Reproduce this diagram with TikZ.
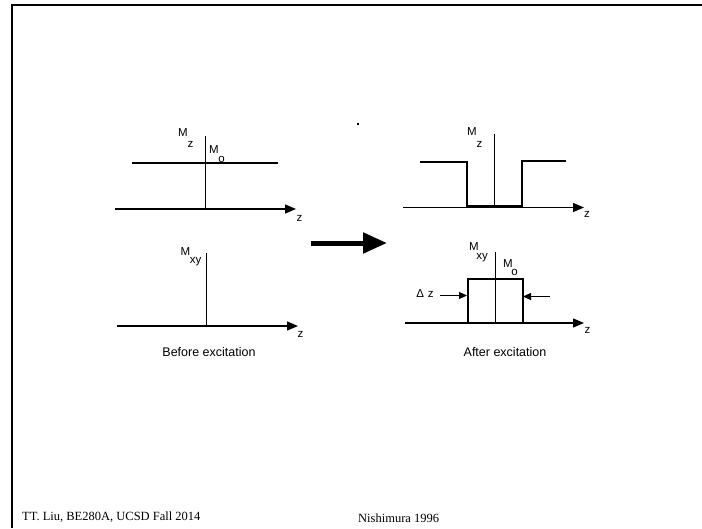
\documentclass[tikz,border=0pt]{standalone}
\usepackage{fontspec}
\setmainfont{Liberation Serif}
\setsansfont{Liberation Sans}
\usetikzlibrary{arrows.meta}
\begin{document}
\begin{tikzpicture}[x=1pt,y=-1pt,
  lbl/.style={font=\sffamily\fontsize{11.5}{12}\selectfont,inner sep=0pt},
  captxt/.style={font=\sffamily\fontsize{12.5}{14}\selectfont,inner sep=0pt},
  foot/.style={font=\rmfamily\fontsize{12.5}{14}\selectfont,inner sep=0pt,anchor=west},
  axis/.style={line width=1.4pt,-{Triangle[length=11pt,width=9pt]}},
  vaxis/.style={line width=0.9pt},
  curve/.style={line width=2pt},
  frame/.style={line width=2pt},
  dimarrow/.style={line width=0.9pt,-{Triangle[length=8pt,width=7pt]}}]
\useasboundingbox (0,0) rectangle (702,528);
% frame
\draw[frame] (12,528) -- (12,5) -- (702,5);
% ---------- top left: Mz before ----------
\coordinate (a1) at (115,209); \coordinate (a1e) at (296,209);
\draw[axis] (a1) -- (a1e);
\draw[vaxis] (205.5,136) -- (205.5,209);
\draw[curve] (132,163) -- (278,163);
\node[lbl] (mz1) at (183,133) {M};
\node[lbl] (mz1s) at (190.5,144.5) {z};
\node[lbl] (mo1) at (214,150) {M};
\node[lbl] (mo1s) at (221.5,159) {o};
\node[lbl] (z1) at (299.5,218) {z};
% ---------- top right: Mz after ----------
\draw[axis] (403,207.5) -- (584,207.5);
\draw[vaxis] (494.5,134) -- (494.5,207);
\draw[curve] (420,162) -- (467,162) -- (467,206) -- (522,206) -- (522,161) -- (566,161);
\node[lbl] (mz2) at (472,131.5) {M};
\node[lbl] (mz2s) at (479.5,144) {z};
\node[lbl] (z2) at (587,214.5) {z};
% ---------- bottom left: Mxy before ----------
\draw[axis] (117,326) -- (298,326);
\draw[vaxis] (206.5,253) -- (206.5,326);
\node[lbl] (mxy1) at (185.5,252) {M};
\node[lbl] (mxy1s) at (195.5,262) {xy};
\node[lbl] (z3) at (300.5,334.5) {z};
\node[captxt] (before) at (209,352) {Before excitation};
% ---------- bottom right: Mxy after ----------
\draw[axis] (405,323) -- (584,323);
\draw[vaxis] (495,252) -- (495,323);
\draw[curve] (405,323) -- (467.5,323) -- (467.5,279) -- (522.5,279) -- (522.5,323);
\node[lbl] (mxy2) at (474,246.5) {M};
\node[lbl] (mxy2s) at (482,258) {xy};
\node[lbl] (mo2) at (508,263.5) {M};
\node[lbl] (mo2s) at (514.5,272) {o};
\node[lbl] (dz) at (425,293.5) {Δ\,\,z};
\coordinate (dzl) at (440,295.5); \coordinate (dzlt) at (467,295.5);
\coordinate (dzr) at (550,296.5); \coordinate (dzrt) at (523,296.5);
\draw[dimarrow] (dzl) -- (dzlt);
\draw[dimarrow] (dzr) -- (dzrt);
\node[lbl] (z4) at (587.5,330) {z};
\node[captxt] (after) at (505,352) {After excitation};
% ---------- big arrow ----------
\coordinate (ba1) at (311,243); \coordinate (ba2) at (387,243);
\draw[line width=5pt,-{Triangle[length=24pt,width=20pt]}] (ba1) -- (ba2);
% speck
\fill (357,123) rectangle (359,125);
% ---------- footer ----------
\node[foot] (f1) at (22,517) {TT. Liu, BE280A, UCSD Fall 2014};
\node[foot] (f2) at (358,518) {Nishimura 1996};
\end{tikzpicture}
\end{document}
